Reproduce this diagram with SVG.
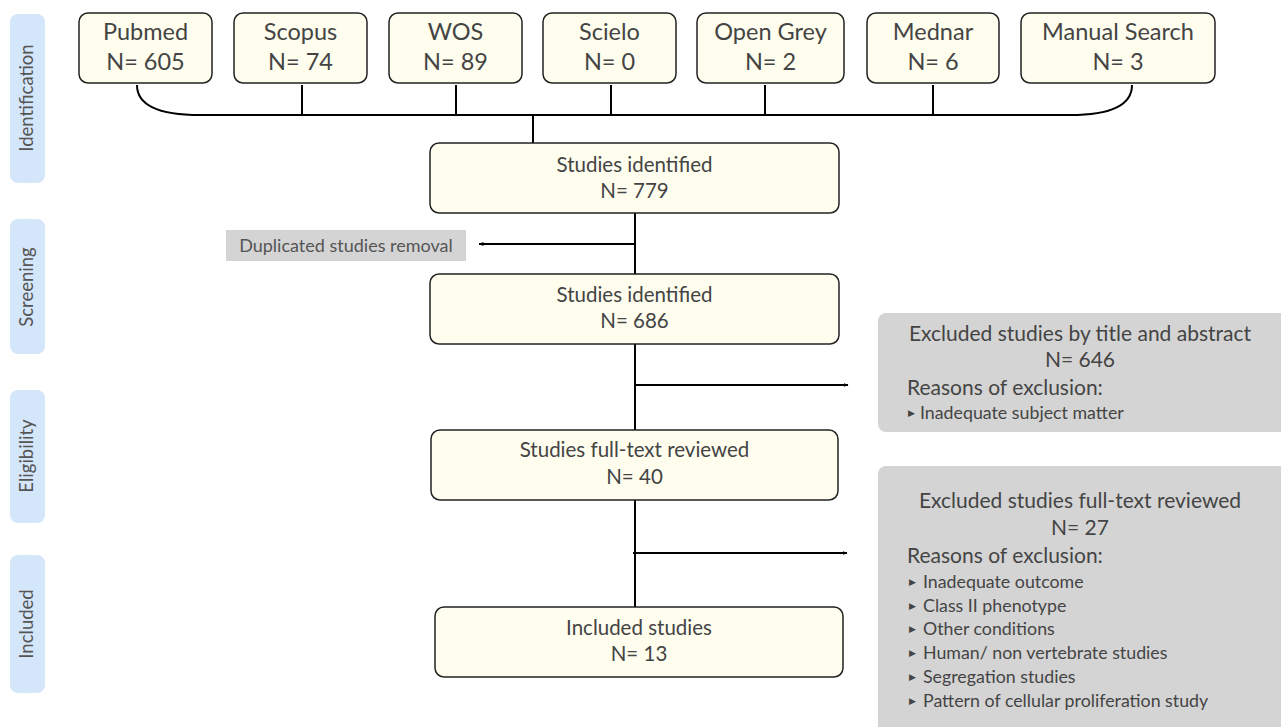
<svg xmlns="http://www.w3.org/2000/svg" width="1281" height="727" viewBox="0 0 1281 727">
<defs>
<marker id="ah" viewBox="0 0 10 10" refX="9" refY="5" markerWidth="5" markerHeight="5" orient="auto" markerUnits="userSpaceOnUse">
<path d="M0,1 L10,5 L0,9 z" fill="#000"/>
</marker>
<style>
text{font-family:Lato,"Noto Sans",sans-serif;fill:#444;}
.phase{fill:#d4e6fa;}
.ph{font-size:18.5px;fill:#555;text-anchor:middle;}
.src{fill:#fefdee;stroke:#222;stroke-width:1.5;}
.main{fill:#fefdee;stroke:#222;stroke-width:1.5;}
.st{font-size:23.5px;text-anchor:middle;}
.mt{font-size:20.5px;text-anchor:middle;}
.gray{fill:#d4d4d4;}
.ex{font-size:21px;}
.it{font-size:17.8px;}
.b{font-size:9px;}
.c{fill:none;stroke:#000;stroke-width:2;}
</style>
</defs>
<rect width="1281" height="727" fill="#fff"/>

<g id="phases">
<rect class="phase" x="10" y="14" width="35" height="169" rx="8"/>
<text class="ph" transform="translate(33,98) rotate(-90)">Identification</text>
<rect class="phase" x="10" y="219" width="35" height="135" rx="8"/>
<text class="ph" transform="translate(33,287) rotate(-90)">Screening</text>
<rect class="phase" x="10" y="390" width="35" height="133" rx="8"/>
<text class="ph" transform="translate(33,456) rotate(-90)">Eligibility</text>
<rect class="phase" x="10" y="555" width="35" height="138" rx="8"/>
<text class="ph" transform="translate(33,624) rotate(-90)">Included</text>
</g>

<g id="connectors">
<path class="c" d="M137,85 C137,106 160,115 200,115 L1070,115 C1110,115 1132,106 1132,85"/>
<path class="c" d="M302,85 V115 M456,85 V115 M611,85 V115 M765,85 V115 M933,85 V115"/>
<path class="c" d="M533,115 V143"/>
<path class="c" d="M635,213 V274"/>
<path class="c" d="M635,244 H479" marker-end="url(#ah)"/>
<path class="c" d="M635,344 V430"/>
<path class="c" d="M635,385 H848" marker-end="url(#ah)"/>
<path class="c" d="M635,500 V607"/>
<path class="c" d="M633,553 H847" marker-end="url(#ah)"/>
</g>

<g id="pubmed"><rect class="src" x="79" y="13" width="133" height="70" rx="9"/><text class="st" x="145.5" y="40">Pubmed</text><text class="st" x="145.5" y="70">N= 605</text></g>
<g id="scopus"><rect class="src" x="234" y="13" width="133" height="70" rx="9"/><text class="st" x="300.5" y="40">Scopus</text><text class="st" x="300.5" y="70">N= 74</text></g>
<g id="wos"><rect class="src" x="389" y="13" width="133" height="70" rx="9"/><text class="st" x="455.5" y="40">WOS</text><text class="st" x="455.5" y="70">N= 89</text></g>
<g id="scielo"><rect class="src" x="543" y="13" width="133" height="70" rx="9"/><text class="st" x="609.5" y="40">Scielo</text><text class="st" x="609.5" y="70">N= 0</text></g>
<g id="opengrey"><rect class="src" x="697" y="13" width="147" height="70" rx="9"/><text class="st" x="770.5" y="40">Open Grey</text><text class="st" x="770.5" y="70">N= 2</text></g>
<g id="mednar"><rect class="src" x="867" y="13" width="132" height="70" rx="9"/><text class="st" x="933" y="40">Mednar</text><text class="st" x="933" y="70">N= 6</text></g>
<g id="manual"><rect class="src" x="1021" y="13" width="194" height="70" rx="9"/><text class="st" x="1118" y="40">Manual Search</text><text class="st" x="1118" y="70">N= 3</text></g>

<g id="identified"><rect class="main" x="430" y="143" width="409" height="70" rx="9" stroke-width="2.2"/><text class="mt" x="634.5" y="172">Studies identified</text><text class="mt" x="634.5" y="198">N= 779</text></g>
<g id="duplicated"><rect class="gray" x="226" y="230" width="240" height="31"/><text x="346" y="252" font-size="18" text-anchor="middle" style="fill:#555">Duplicated studies removal</text></g>
<g id="screened"><rect class="main" x="430" y="274" width="409" height="70" rx="9"/><text class="mt" x="634.5" y="302">Studies identified</text><text class="mt" x="634.5" y="328">N= 686</text></g>
<g id="fulltext"><rect class="main" x="431" y="430" width="407" height="70" rx="9"/><text class="mt" x="634.5" y="457">Studies full-text reviewed</text><text class="mt" x="634.5" y="484">N= 40</text></g>
<g id="included"><rect class="main" x="435" y="607" width="408" height="70" rx="9"/><text class="mt" x="639" y="635">Included studies</text><text class="mt" x="639" y="661">N= 13</text></g>

<g id="excluded1"><rect class="gray" x="878" y="313" width="410" height="119" rx="8"/>
<text class="ex" x="1080" y="341" text-anchor="middle">Excluded studies by title and abstract</text>
<text class="ex" x="1080" y="367" text-anchor="middle">N= 646</text>
<text class="ex" x="907" y="395">Reasons of exclusion:</text>
<text class="b" x="908" y="416">▶</text><text class="it" x="920" y="419">Inadequate subject matter</text>
</g>
<g id="excluded2"><rect class="gray" x="878" y="466" width="410" height="280" rx="8"/>
<text class="ex" x="1080" y="508" text-anchor="middle">Excluded studies full-text reviewed</text>
<text class="ex" x="1080" y="535" text-anchor="middle">N= 27</text>
<text class="ex" x="907" y="563">Reasons of exclusion:</text>
<text class="b" x="909" y="585">▶</text><text class="it" x="923" y="588">Inadequate outcome</text>
<text class="b" x="909" y="609">▶</text><text class="it" x="923" y="612">Class II phenotype</text>
<text class="b" x="909" y="632">▶</text><text class="it" x="923" y="635">Other conditions</text>
<text class="b" x="909" y="656">▶</text><text class="it" x="923" y="659">Human/ non vertebrate studies</text>
<text class="b" x="909" y="680">▶</text><text class="it" x="923" y="683">Segregation studies</text>
<text class="b" x="909" y="704">▶</text><text class="it" x="923" y="707">Pattern of cellular proliferation study</text>
</g>
</svg>
